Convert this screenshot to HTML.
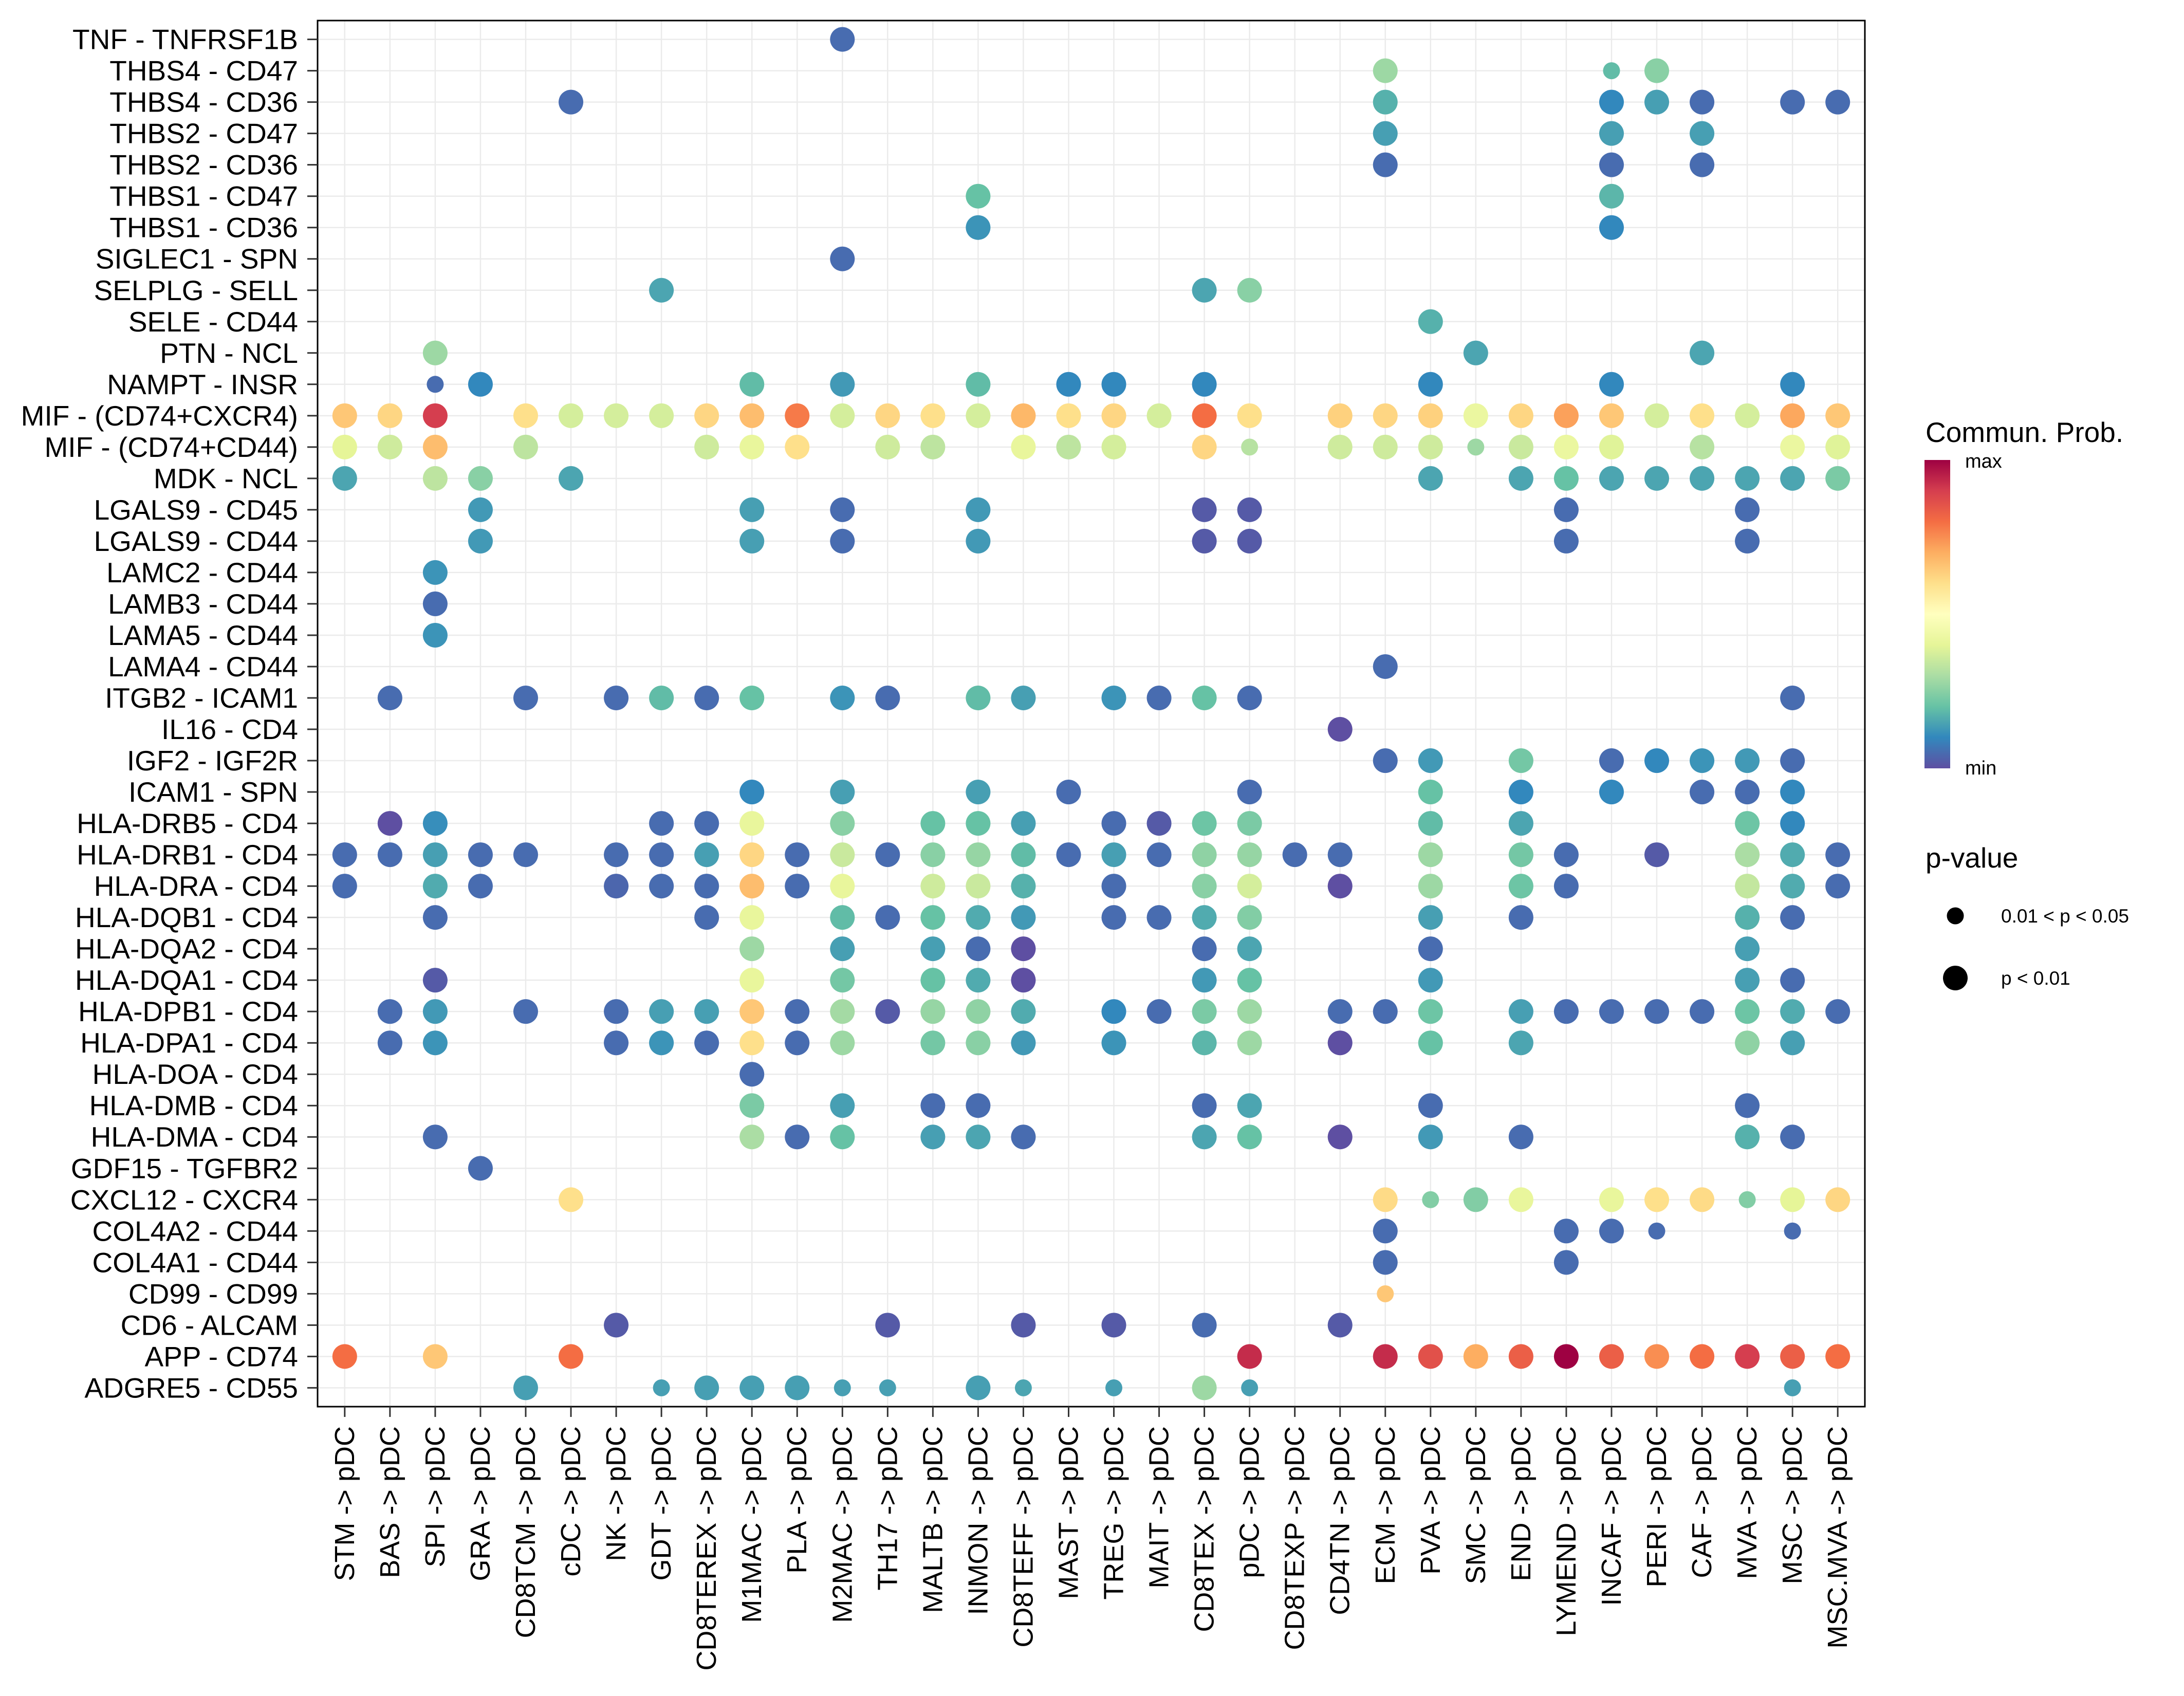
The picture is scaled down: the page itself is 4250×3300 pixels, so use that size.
<!DOCTYPE html>
<html><head><meta charset="utf-8"><style>
html,body{margin:0;padding:0;background:#fff;}
svg{display:block;font-family:"Liberation Sans",Arial,sans-serif;}
</style></head><body>
<svg id="chart" width="4250" height="3300" viewBox="0 0 4250 3300" xmlns="http://www.w3.org/2000/svg">
<defs>
<linearGradient id="spec" x1="0" y1="1" x2="0" y2="0">
<stop offset="0" stop-color="#5e4fa2"/><stop offset="0.1" stop-color="#3288bd"/><stop offset="0.2" stop-color="#66c2a5"/><stop offset="0.3" stop-color="#abdda4"/><stop offset="0.4" stop-color="#e6f598"/><stop offset="0.5" stop-color="#ffffbf"/><stop offset="0.6" stop-color="#fee08b"/><stop offset="0.7" stop-color="#fdae61"/><stop offset="0.8" stop-color="#f46d43"/><stop offset="0.9" stop-color="#d53e4f"/><stop offset="1" stop-color="#9e0142"/>
</linearGradient>
</defs>
<g id="grid"></g>
<g id="dots"></g>
<rect x="618" y="40" width="3011" height="2697" fill="none" stroke="#000" stroke-width="3"/>
<g id="yaxis"></g>
<g id="xaxis"></g>
<g>
<text x="3747" y="860" font-size="55">Commun. Prob.</text>
<rect x="3745" y="895" width="50" height="600" fill="url(#spec)"/>
<text x="3824" y="910" font-size="38">max</text>
<text x="3824" y="1507" font-size="38">min</text>
</g>
<g>
<text x="3747" y="1688" font-size="55">p-value</text>
<circle cx="3805" cy="1782" r="16.5" fill="#000"/>
<text x="3894" y="1795" font-size="37">0.01 &lt; p &lt; 0.05</text>
<circle cx="3805" cy="1903" r="24" fill="#000"/>
<text x="3894" y="1916" font-size="37">p &lt; 0.01</text>
</g>
</svg>
<script>
const yLabels = ["TNF - TNFRSF1B","THBS4 - CD47","THBS4 - CD36","THBS2 - CD47","THBS2 - CD36","THBS1 - CD47","THBS1 - CD36","SIGLEC1 - SPN","SELPLG - SELL","SELE - CD44","PTN - NCL","NAMPT - INSR","MIF - (CD74+CXCR4)","MIF - (CD74+CD44)","MDK - NCL","LGALS9 - CD45","LGALS9 - CD44","LAMC2 - CD44","LAMB3 - CD44","LAMA5 - CD44","LAMA4 - CD44","ITGB2 - ICAM1","IL16 - CD4","IGF2 - IGF2R","ICAM1 - SPN","HLA-DRB5 - CD4","HLA-DRB1 - CD4","HLA-DRA - CD4","HLA-DQB1 - CD4","HLA-DQA2 - CD4","HLA-DQA1 - CD4","HLA-DPB1 - CD4","HLA-DPA1 - CD4","HLA-DOA - CD4","HLA-DMB - CD4","HLA-DMA - CD4","GDF15 - TGFBR2","CXCL12 - CXCR4","COL4A2 - CD44","COL4A1 - CD44","CD99 - CD99","CD6 - ALCAM","APP - CD74","ADGRE5 - CD55"];
const xLabels = ["STM","BAS","SPI","GRA","CD8TCM","cDC","NK","GDT","CD8TEREX","M1MAC","PLA","M2MAC","TH17","MALTB","INMON","CD8TEFF","MAST","TREG","MAIT","CD8TEX","pDC","CD8TEXP","CD4TN","ECM","PVA","SMC","END","LYMEND","INCAF","PERI","CAF","MVA","MSC","MSC.MVA"].map(s => s + " -> pDC");
// [row, col, value(0=min..1=max), significant(1: p<0.01, 0: 0.01<p<0.05)]
const dots = [
[0,11,.05,1],[1,23,.28,1],[1,28,.19,0],[1,29,.25,1],
[2,5,.05,1],[2,23,.17,1],[2,28,.1,1],[2,29,.14,1],[2,30,.05,1],[2,32,.05,1],[2,33,.05,1],
[3,23,.14,1],[3,28,.14,1],[3,30,.14,1],[4,23,.05,1],[4,28,.05,1],[4,30,.05,1],
[5,14,.2,1],[5,28,.18,1],[6,14,.12,1],[6,28,.1,1],[7,11,.05,1],
[8,7,.15,1],[8,19,.15,1],[8,20,.25,1],[9,24,.17,1],[10,2,.28,1],[10,25,.15,1],[10,30,.15,1],
[11,2,.05,0],[11,3,.1,1],[11,9,.19,1],[11,11,.13,1],[11,14,.19,1],[11,16,.1,1],[11,17,.1,1],[11,19,.1,1],[11,24,.1,1],[11,28,.1,1],[11,32,.1,1],
[12,0,.65,1],[12,1,.62,1],[12,2,.9,1],[12,4,.6,1],[12,5,.37,1],[12,6,.37,1],[12,7,.37,1],[12,8,.62,1],[12,9,.67,1],[12,10,.78,1],[12,11,.37,1],[12,12,.62,1],[12,13,.6,1],[12,14,.37,1],[12,15,.68,1],[12,16,.6,1],
[12,17,.62,1],[12,18,.37,1],[12,19,.8,1],[12,20,.6,1],[12,22,.63,1],[12,23,.62,1],[12,24,.63,1],[12,25,.42,1],[12,26,.62,1],[12,27,.72,1],[12,28,.65,1],[12,29,.37,1],[12,30,.6,1],[12,31,.37,1],[12,32,.71,1],[12,33,.65,1],
[13,0,.4,1],[13,1,.36,1],[13,2,.67,1],[13,4,.33,1],[13,8,.36,1],[13,9,.41,1],[13,10,.6,1],[13,12,.36,1],[13,13,.33,1],[13,15,.41,1],[13,16,.33,1],
[13,17,.37,1],[13,19,.62,1],[13,20,.32,0],[13,22,.36,1],[13,23,.36,1],[13,24,.36,1],[13,25,.28,0],[13,26,.35,1],[13,27,.42,1],[13,28,.39,1],[13,30,.32,1],[13,32,.42,1],[13,33,.39,1],
[14,0,.15,1],[14,2,.33,1],[14,3,.25,1],[14,5,.15,1],[14,24,.15,1],[14,26,.15,1],[14,27,.2,1],[14,28,.15,1],[14,29,.15,1],[14,30,.15,1],[14,31,.15,1],[14,32,.15,1],[14,33,.23,1],
[15,3,.13,1],[15,9,.14,1],[15,11,.05,1],[15,14,.13,1],[15,19,.02,1],[15,20,.02,1],[15,27,.05,1],[15,31,.05,1],
[16,3,.13,1],[16,9,.14,1],[16,11,.05,1],[16,14,.13,1],[16,19,.02,1],[16,20,.02,1],[16,27,.05,1],[16,31,.05,1],
[17,2,.12,1],[18,2,.05,1],[19,2,.12,1],[20,23,.05,1],
[21,1,.05,1],[21,4,.05,1],[21,6,.05,1],[21,7,.19,1],[21,8,.05,1],[21,9,.2,1],[21,11,.12,1],[21,12,.05,1],[21,14,.19,1],[21,15,.14,1],[21,17,.12,1],[21,18,.05,1],[21,19,.2,1],[21,20,.05,1],[21,32,.05,1],
[22,22,0,1],
[23,23,.05,1],[23,24,.13,1],[23,26,.22,1],[23,28,.05,1],[23,29,.1,1],[23,30,.12,1],[23,31,.13,1],[23,32,.05,1],
[24,9,.1,1],[24,11,.14,1],[24,14,.14,1],[24,16,.05,1],[24,20,.05,1],[24,24,.2,1],[24,26,.1,1],[24,28,.1,1],[24,30,.05,1],[24,31,.05,1],[24,32,.1,1],
[25,1,0,1],[25,2,.11,1],[25,7,.05,1],[25,8,.05,1],[25,9,.41,1],[25,11,.25,1],[25,13,.2,1],[25,14,.2,1],[25,15,.14,1],[25,17,.05,1],[25,18,.02,1],[25,19,.21,1],[25,20,.23,1],[25,24,.19,1],[25,26,.15,1],[25,31,.21,1],[25,32,.1,1],
[26,0,.05,1],[26,1,.05,1],[26,2,.14,1],[26,3,.05,1],[26,4,.05,1],[26,6,.05,1],[26,7,.05,1],[26,8,.14,1],[26,9,.62,1],[26,10,.05,1],[26,11,.35,1],[26,12,.05,1],[26,13,.25,1],[26,14,.27,1],[26,15,.19,1],[26,16,.05,1],
[26,17,.14,1],[26,18,.05,1],[26,19,.26,1],[26,20,.27,1],[26,21,.05,1],[26,22,.05,1],[26,24,.28,1],[26,26,.22,1],[26,27,.05,1],[26,29,.02,1],[26,31,.3,1],[26,32,.16,1],[26,33,.05,1],
[27,0,.05,1],[27,2,.16,1],[27,3,.05,1],[27,6,.04,1],[27,7,.05,1],[27,8,.05,1],[27,9,.67,1],[27,10,.05,1],[27,11,.41,1],[27,13,.36,1],[27,14,.35,1],[27,15,.17,1],
[27,17,.05,1],[27,19,.25,1],[27,20,.37,1],[27,22,0,1],[27,24,.28,1],[27,26,.21,1],[27,27,.05,1],[27,31,.34,1],[27,32,.16,1],[27,33,.05,1],
[28,2,.05,1],[28,8,.05,1],[28,9,.41,1],[28,11,.19,1],[28,12,.05,1],[28,13,.2,1],[28,14,.16,1],[28,15,.13,1],[28,17,.05,1],[28,18,.05,1],[28,19,.16,1],[28,20,.24,1],[28,24,.14,1],[28,26,.05,1],[28,31,.17,1],[28,32,.05,1],
[29,9,.28,1],[29,11,.14,1],[29,13,.14,1],[29,14,.05,1],[29,15,0,1],[29,19,.05,1],[29,20,.15,1],[29,24,.05,1],[29,31,.14,1],
[30,2,.02,1],[30,9,.41,1],[30,11,.22,1],[30,13,.2,1],[30,14,.16,1],[30,15,0,1],[30,19,.13,1],[30,20,.2,1],[30,24,.13,1],[30,31,.14,1],[30,32,.05,1],
[31,1,.05,1],[31,2,.13,1],[31,4,.05,1],[31,6,.05,1],[31,7,.14,1],[31,8,.14,1],[31,9,.65,1],[31,10,.05,1],[31,11,.29,1],[31,12,.02,1],[31,13,.27,1],[31,14,.26,1],[31,15,.16,1],
[31,17,.1,1],[31,18,.05,1],[31,19,.23,1],[31,20,.28,1],[31,22,.05,1],[31,23,.05,1],[31,24,.21,1],[31,26,.14,1],[31,27,.05,1],[31,28,.05,1],[31,29,.05,1],[31,30,.05,1],[31,31,.21,1],[31,32,.16,1],[31,33,.05,1],
[32,1,.05,1],[32,2,.12,1],[32,6,.05,1],[32,7,.12,1],[32,8,.05,1],[32,9,.6,1],[32,10,.05,1],[32,11,.28,1],[32,13,.22,1],[32,14,.25,1],[32,15,.13,1],[32,17,.12,1],[32,19,.18,1],[32,20,.28,1],[32,22,0,1],[32,24,.2,1],[32,26,.15,1],[32,31,.26,1],[32,32,.14,1],
[33,9,.05,1],
[34,9,.23,1],[34,11,.14,1],[34,13,.05,1],[34,14,.05,1],[34,19,.05,1],[34,20,.15,1],[34,24,.05,1],[34,31,.05,1],
[35,2,.05,1],[35,9,.3,1],[35,10,.05,1],[35,11,.2,1],[35,13,.14,1],[35,14,.15,1],[35,15,.05,1],[35,19,.15,1],[35,20,.2,1],[35,22,0,1],[35,24,.13,1],[35,26,.05,1],[35,31,.17,1],[35,32,.05,1],
[36,3,.05,1],
[37,5,.6,1],[37,23,.61,1],[37,24,.24,0],[37,25,.24,1],[37,26,.41,1],[37,28,.41,1],[37,29,.6,1],[37,30,.61,1],[37,31,.24,0],[37,32,.4,1],[37,33,.62,1],
[38,23,.05,1],[38,27,.05,1],[38,28,.05,1],[38,29,.05,0],[38,32,.05,0],
[39,23,.05,1],[39,27,.05,1],[40,23,.65,0],
[41,6,.02,1],[41,12,.02,1],[41,15,.02,1],[41,17,.02,1],[41,19,.05,1],[41,22,.02,1],
[42,0,.8,1],[42,2,.65,1],[42,5,.8,1],[42,20,.93,1],[42,23,.93,1],[42,24,.86,1],[42,25,.7,1],[42,26,.83,1],[42,27,1,1],[42,28,.83,1],[42,29,.75,1],[42,30,.8,1],[42,31,.9,1],[42,32,.83,1],[42,33,.8,1],
[43,4,.14,1],[43,7,.14,0],[43,8,.14,1],[43,9,.14,1],[43,10,.14,1],[43,11,.14,0],[43,12,.14,0],[43,14,.14,1],[43,15,.15,0],[43,17,.14,0],[43,19,.28,1],[43,20,.14,0],[43,32,.14,0]
];

const NS = "http://www.w3.org/2000/svg";
const PL = 618, PT = 40, PW = 3011, PH = 2697;
const xStep = PW / (xLabels.length - 1 + 1.2);
const yStep = PH / (yLabels.length - 1 + 1.2);
function xPos(c){ return PL + (c + 0.6) * xStep; }
function yPos(r){ return PT + (r + 0.6) * yStep; }
const stops = ["#5e4fa2","#3288bd","#66c2a5","#abdda4","#e6f598","#ffffbf","#fee08b","#fdae61","#f46d43","#d53e4f","#9e0142"];
function hex(h){ return [1,3,5].map(i => parseInt(h.substr(i,2),16)); }
function colorScale(v){
  v = Math.max(0, Math.min(1, v));
  const t = v * 10, i = Math.min(9, Math.floor(t)), f = t - i;
  const a = hex(stops[i]), b = hex(stops[i+1]);
  return "rgb(" + a.map((x,k) => Math.round(x + (b[k]-x)*f)).join(",") + ")";
}
function mk(tag, attrs, parent){ const e = document.createElementNS(NS, tag); for (const k in attrs) e.setAttribute(k, attrs[k]); parent.appendChild(e); return e; }

const grid = document.getElementById("grid");
yLabels.forEach((lab, r) => {
  const l = mk("line", {x1: PL, x2: PL+PW, y1: yPos(r), y2: yPos(r), stroke: "#ebebeb", "stroke-width": 2.5}, grid);
  
  
});
xLabels.forEach((lab, c) => {
  const l = mk("line", {x1: xPos(c), x2: xPos(c), y1: PT, y2: PT+PH, stroke: "#ebebeb", "stroke-width": 2.5}, grid);
  
  
});

const yax = document.getElementById("yaxis");
yLabels.forEach((lab, r) => {
  const t = mk("line", {x1: PL-20, x2: PL, y1: yPos(r), y2: yPos(r), stroke: "#333", "stroke-width": 3}, yax);
  
  
  const tx = mk("text", {x: PL-38, y: yPos(r), "text-anchor": "end", "dominant-baseline": "central", "font-size": 55, fill: "#000"}, yax);
  tx.textContent = lab;
  
  
});
const xax = document.getElementById("xaxis");
xLabels.forEach((lab, c) => {
  const x = xPos(c);
  const t = mk("line", {x1: x, x2: x, y1: PT+PH, y2: PT+PH+20, stroke: "#333", "stroke-width": 3}, xax);
  
  
  const y0 = PT+PH+38;
  const tx = mk("text", {x: x, y: y0, transform: "rotate(-90 " + x + " " + y0 + ")", "text-anchor": "end", "dominant-baseline": "central", "font-size": 54, fill: "#000"}, xax);
  tx.textContent = lab;
  
  
});

const dg = document.getElementById("dots");
dots.forEach(d => {
  const c = mk("circle", {cx: xPos(d[1]), cy: yPos(d[0]), r: d[3] ? 24 : 16.5, fill: colorScale(d[2])}, dg);
  
  
});
</script>
</body></html>
